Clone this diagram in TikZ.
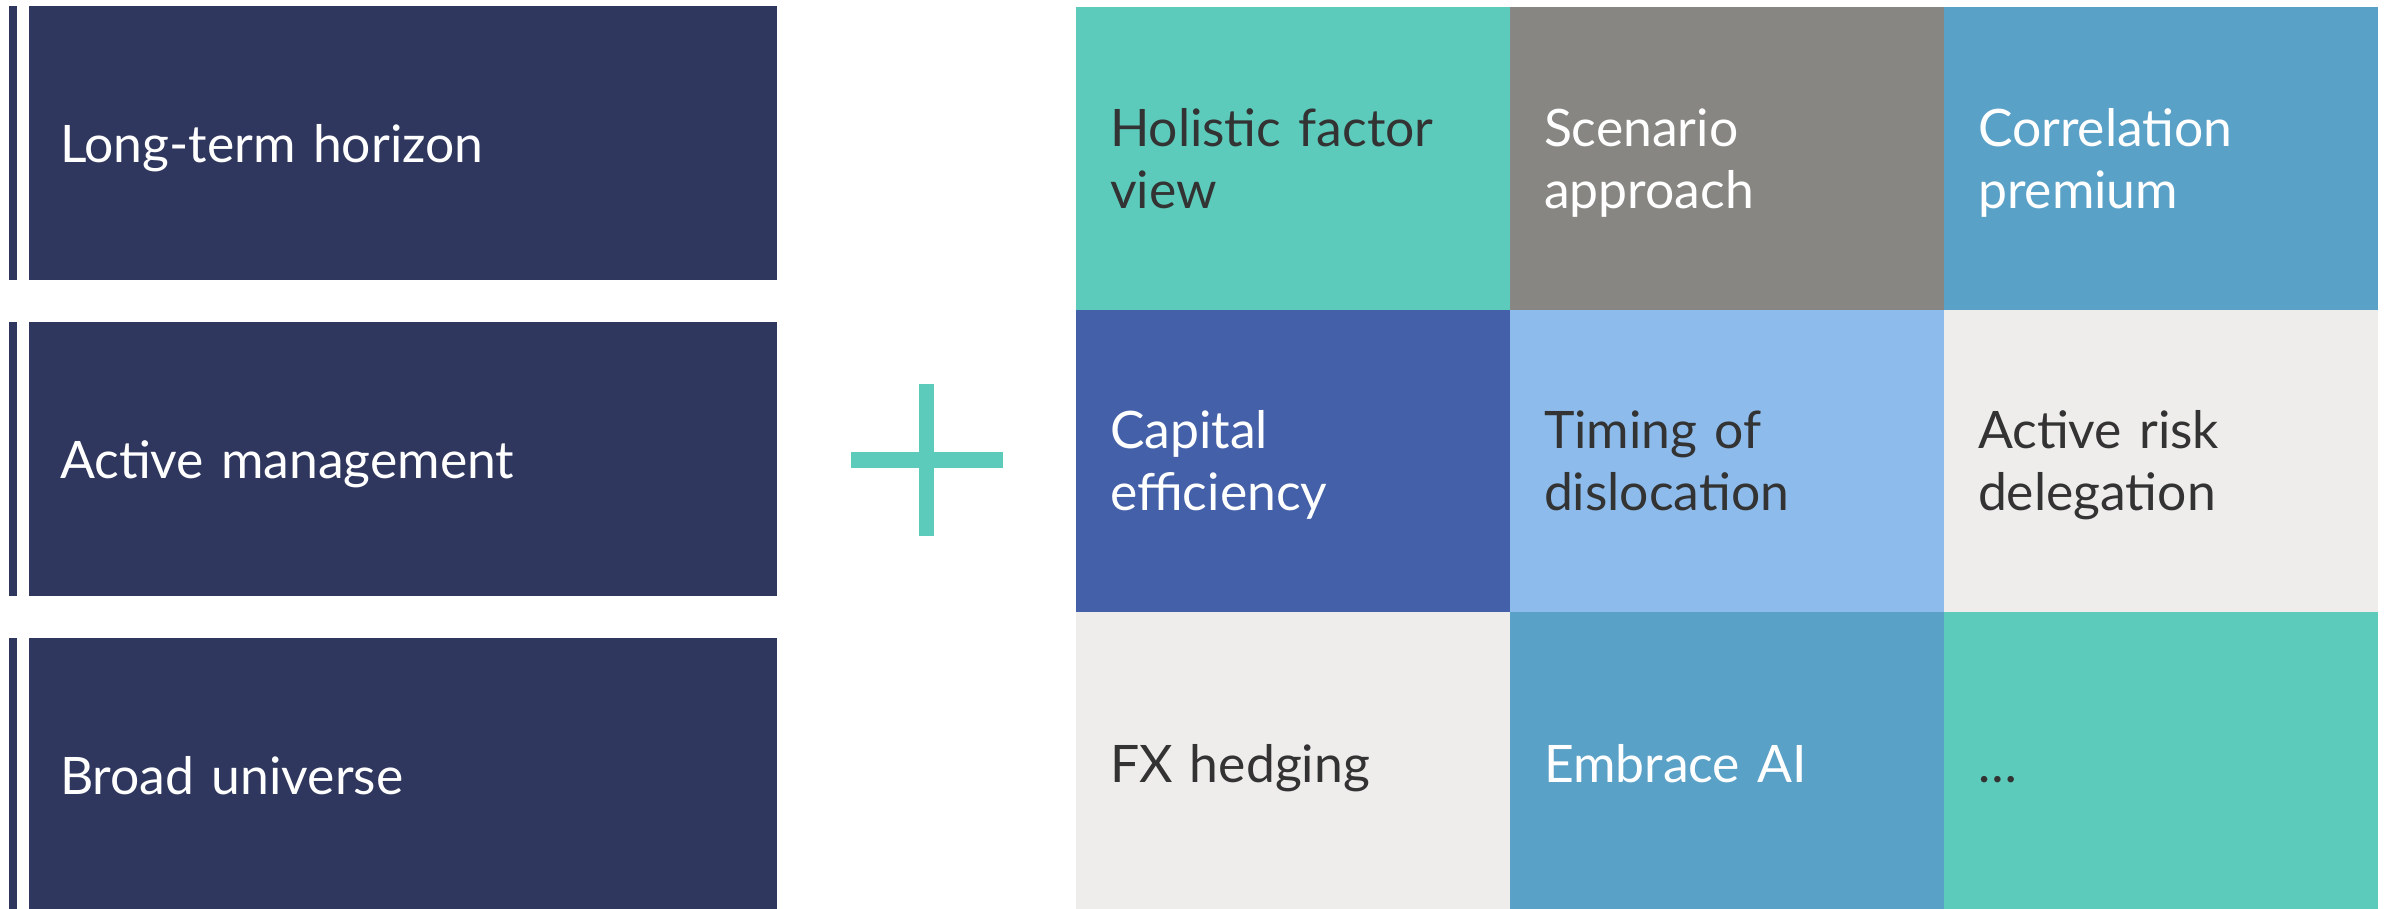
\documentclass[tikz,border=0pt]{standalone}
\usepackage{fontspec}
\setmainfont{Lato}
\usetikzlibrary{positioning,calc}

\definecolor{navy}{HTML}{2F375E}
\definecolor{mint}{HTML}{5CCBBB}
\definecolor{stone}{HTML}{878682}
\definecolor{steel}{HTML}{5AA1C8}
\definecolor{royal}{HTML}{4460A8}
\definecolor{sky}{HTML}{8DBBEB}
\definecolor{mist}{HTML}{EEEDEB}
\definecolor{ink}{HTML}{333333}

\begin{document}
\begin{tikzpicture}
  [pillar/.style={fill=navy,text=white,minimum width=74.8mm,minimum height=27.4mm,
     text width=68.6mm,inner xsep=3.1mm,align=left,outer sep=0pt},
   cell/.style={minimum width=43.4mm,minimum height=30.25mm,text width=36.6mm,
     inner xsep=3.4mm,align=left,outer sep=0pt,text=ink},
   light/.style={text=white},
   % fixed struts so every label sits at the same baseline
   every node/.append style={font=\fontsize{14.7}{17.6}\selectfont,
     execute at begin node={\rule{0pt}{5.1mm}},
     execute at end node={\rule[-1.3mm]{0pt}{1.3mm}}},
   node distance=4.2mm]
  \useasboundingbox (0,0) rectangle (239.5mm,-90.9mm);
  % three pillars on the left
  \node[pillar,anchor=north west] (horizon) at (2.9mm,-0.6mm) {Long-term horizon};
  \node[pillar,below=of horizon] (active) {Active management};
  \node[pillar,below=of active] (universe) {Broad universe};
  \foreach \p in {horizon,active,universe}
    \fill[navy] ([xshift=-2.03mm]\p.north west) rectangle ([xshift=-1.22mm]\p.south west);
  % grid of building blocks
  \node[cell,fill=mint,anchor=north west] (factor) at (107.6mm,-0.7mm) {Holistic factor\\view};
  \node[cell,fill=stone,light,right=0pt of factor] (scenario) {Scenario\\approach};
  \node[cell,fill=steel,light,right=0pt of scenario] (correlation) {Correlation\\premium};
  \node[cell,fill=royal,light,below=0pt of factor] (capital) {Capital\\efficiency};
  \node[cell,fill=sky,below=0pt of scenario] (timing) {Timing of\\dislocation};
  \node[cell,fill=mist,below=0pt of correlation] (delegation) {Active risk\\delegation};
  \node[cell,fill=mist,below=0pt of capital] (fx) {FX hedging};
  \node[cell,fill=steel,light,below=0pt of timing] (ai) {Embrace AI};
  \node[cell,fill=mint,below=0pt of delegation] (more) {\dots};
  % plus sign between the two halves
  \coordinate (plus) at ($(active.east)!0.5!(capital.west)$);
  \draw[mint,line width=1.55mm] ([yshift=7.6mm]plus) -- ([yshift=-7.6mm]plus)
    ([xshift=-7.6mm]plus) -- ([xshift=7.6mm]plus);
\end{tikzpicture}
\end{document}
